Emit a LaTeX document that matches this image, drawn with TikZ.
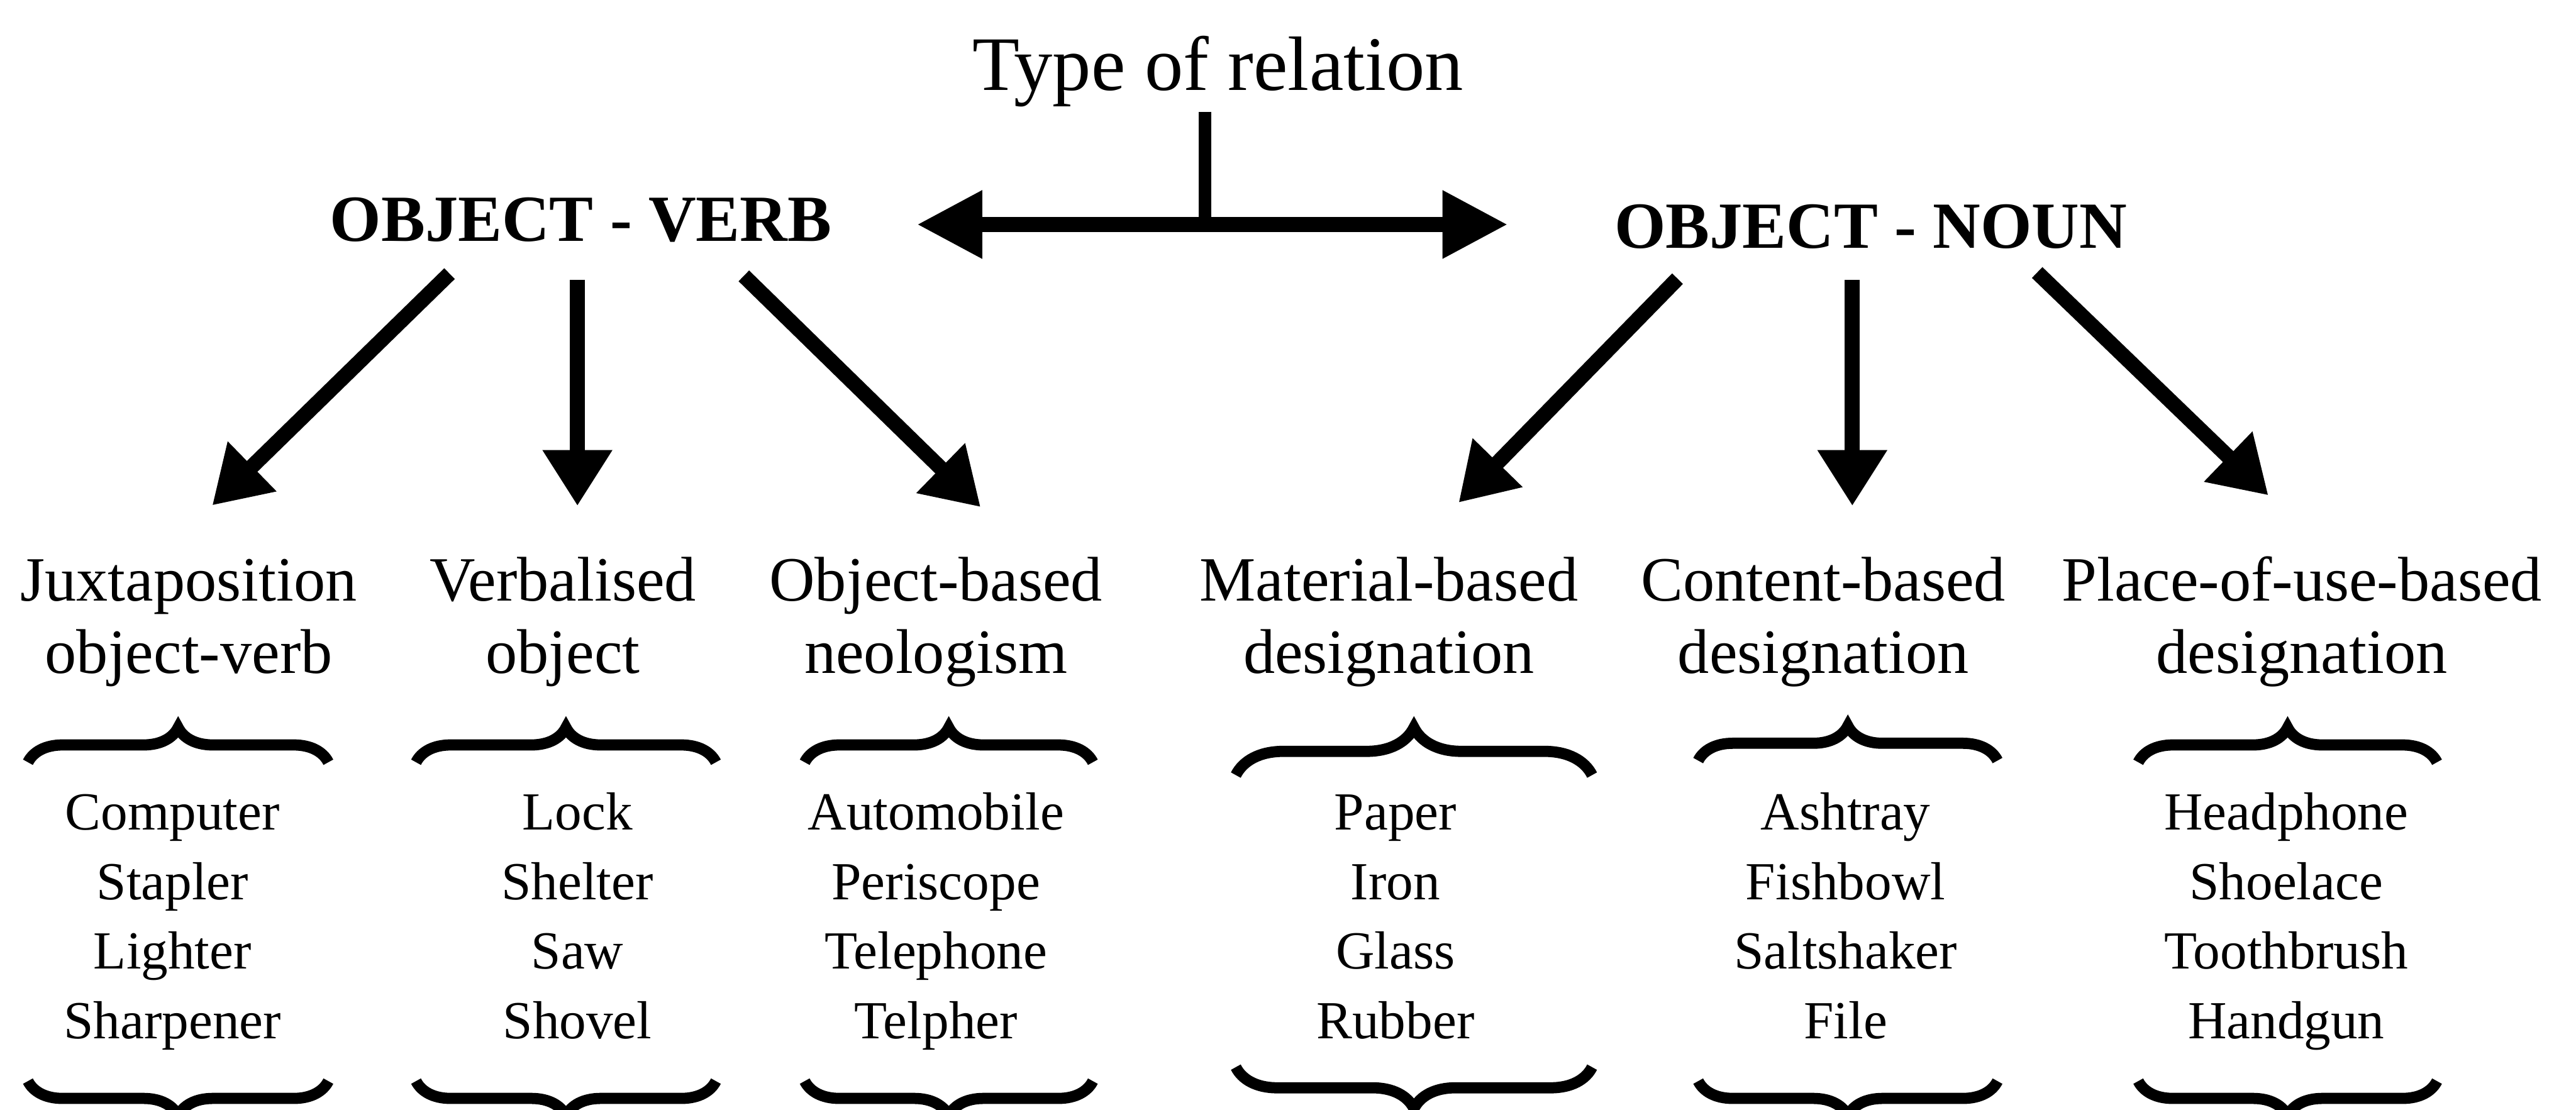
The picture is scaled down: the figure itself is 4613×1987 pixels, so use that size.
\documentclass[tikz,border=0pt]{standalone}
\usepackage{fontspec}
\setmainfont{Liberation Serif}
\usetikzlibrary{arrows.meta,decorations.pathreplacing}
\begin{document}
\begin{tikzpicture}[x=0.1pt,y=-0.1pt,
  every node/.style={inner sep=0pt, outer sep=0pt},
  ttl/.style={anchor=base, font=\fontsize{13.8}{16}\selectfont},
  hd/.style={anchor=base, font=\fontsize{11.8}{14}\selectfont\bfseries},
  cat/.style={anchor=base, align=center, font=\fontsize{11.3}{13}\selectfont},
  lst/.style={anchor=base, align=center, font=\fontsize{9.6}{12.47}\selectfont},
  arr/.style={line width=2.7pt, -{Triangle[length=10pt,width=11.8pt]}},
  dbl/.style={line width=2.7pt, {Triangle[length=11.7pt,width=11.5pt]}-{Triangle[length=11.7pt,width=11.5pt]}},
  tickline/.style={line width=2.2pt},
  brc/.style={line width=2pt, decorate, decoration={brace, amplitude=#1}},
  brc/.default=6.2pt
]
\useasboundingbox (0,0) rectangle (4613,1987);
\clip (0,0) rectangle (4613,1987);

% title and heads
\node[ttl] (title) at (2181,162) {Type of relation};
\node[hd] (ov) at (1040,432) {OBJECT - VERB};
\node[hd] (on) at (3350,444) {OBJECT - NOUN};

% category labels (anchored at the baseline of the last line)
\node[cat] (c1) at (338,1206) {Juxtaposition\\object-verb};
\node[cat] (c2) at (1008,1206) {Verbalised\\object};
\node[cat] (c3) at (1676,1206) {Object-based\\neologism};
\node[cat] (c4) at (2487,1206) {Material-based\\designation};
\node[cat] (c5) at (3265,1206) {Content-based\\designation};
\node[cat] (c6) at (4122,1206) {Place-of-use-based\\designation};

% example lists (anchored at the baseline of the last line)
\node[lst] (l1) at (309,1860) {Computer\\Stapler\\Lighter\\Sharpener};
\node[lst] (l2) at (1034,1860) {Lock\\Shelter\\Saw\\Shovel};
\node[lst] (l3) at (1676,1860) {Automobile\\Periscope\\Telephone\\Telpher};
\node[lst] (l4) at (2499,1860) {Paper\\Iron\\Glass\\Rubber};
\node[lst] (l5) at (3305,1860) {Ashtray\\Fishbowl\\Saltshaker\\File};
\node[lst] (l6) at (4094,1860) {Headphone\\Shoelace\\Toothbrush\\Handgun};

% connector end points
\coordinate (tt) at (2158,200);
\coordinate (tb) at (2158,402);
\coordinate (dl) at (1642,402);
\coordinate (dr) at (2700,402);
\coordinate (ov1) at (805,490);
\coordinate (ov2) at (1034,501);
\coordinate (ov3) at (1332,494);
\coordinate (on1) at (3004,499);
\coordinate (on2) at (3317,501);
\coordinate (on3) at (3648,488);
\coordinate (c1t) at (380,905);
\coordinate (c2t) at (1034,906);
\coordinate (c3t) at (1756,908);
\coordinate (c4t) at (2612,900);
\coordinate (c5t) at (3317,906);
\coordinate (c6t) at (4062,887);

% connectors
\draw[tickline] (tt) -- (tb);
\draw[dbl] (dl) -- (dr);
\draw[arr] (ov1) -- (c1t);
\draw[arr] (ov2) -- (c2t);
\draw[arr] (ov3) -- (c3t);
\draw[arr] (on1) -- (c4t);
\draw[arr] (on2) -- (c5t);
\draw[arr] (on3) -- (c6t);

% top braces
\draw[brc] (50,1365) -- (588,1365);
\draw[brc] (745,1365) -- (1282,1365);
\draw[brc] (1441,1365) -- (1957,1365);
\draw[brc=8.5pt] (2213,1388) -- (2851,1388);
\draw[brc] (3041,1362) -- (3577,1362);
\draw[brc] (3829,1365) -- (4364,1365);

% bottom braces
\draw[brc] (588,1936) -- (50,1936);
\draw[brc] (1282,1936) -- (745,1936);
\draw[brc] (1957,1936) -- (1441,1936);
\draw[brc=7.4pt] (2851,1911) -- (2213,1911);
\draw[brc] (3577,1936) -- (3041,1936);
\draw[brc] (4364,1936) -- (3829,1936);
\end{tikzpicture}
\end{document}
